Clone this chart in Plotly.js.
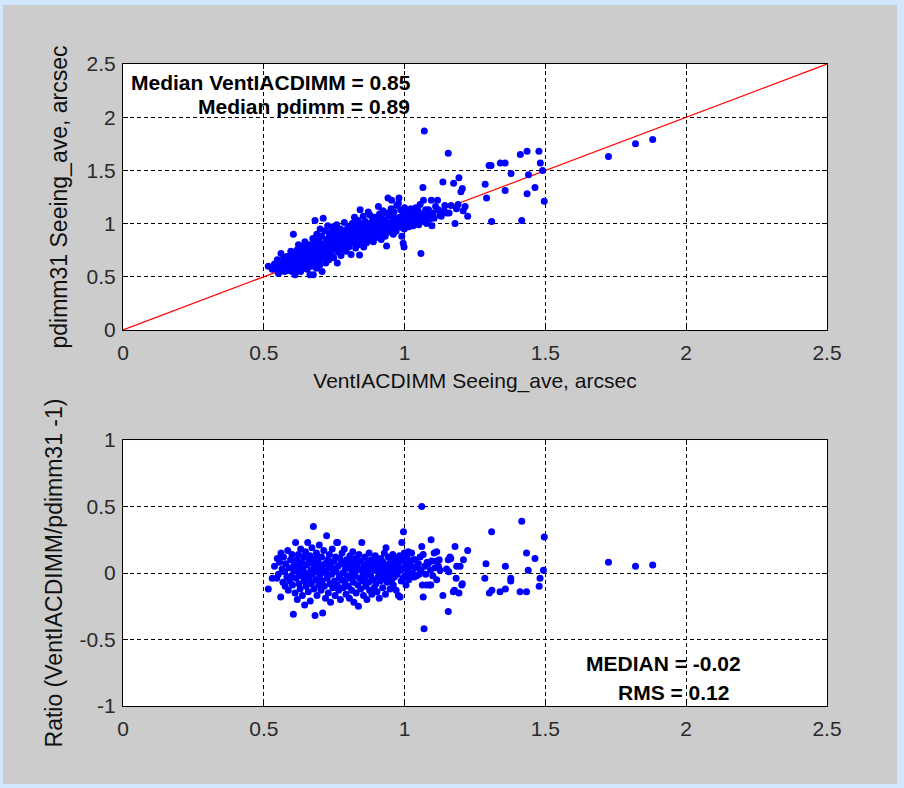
<!DOCTYPE html>
<html><head><meta charset="utf-8">
<script src="https://cdn.plot.ly/plotly-3.0.1.min.js"></script>
<style>
html,body{margin:0;padding:0;background:#d2e6fc;width:904px;height:788px;overflow:hidden;}
#plot{position:absolute;left:3px;top:5px;width:894px;height:779px;}
</style></head><body><div id="plot"></div>
<script>
// ---- top panel: VentIACDIMM vs pdimm31 seeing (arcsec) ----
const xTop = [
0.516,0.530,0.538,0.546,0.548,0.552,0.556,0.561,0.563,0.568,0.570,0.574,0.575,0.578,0.582,0.585,0.587,0.590,0.592,0.593,0.596,0.598,0.600,0.602,0.605,0.606,
0.608,0.611,0.612,0.615,0.617,0.618,0.620,0.622,0.623,0.625,0.627,0.629,0.631,0.633,0.635,0.636,0.638,0.640,0.642,0.644,0.646,0.646,0.648,0.650,0.652,0.654,0.656,0.658,0.660,0.662,0.664,0.665,0.667,0.669,0.670,0.672,0.674,0.676,0.677,0.679,0.680,0.682,0.683,0.685,0.687,0.688,0.690,0.692,0.694,0.695,0.697,0.699,0.700,
0.702,0.704,0.705,0.707,0.709,0.711,0.712,0.714,0.716,0.718,0.720,0.722,0.724,0.725,0.727,0.729,0.731,0.733,0.735,0.736,0.738,0.740,0.742,0.744,0.746,0.748,0.750,0.752,0.754,0.756,0.758,0.759,0.761,0.762,0.764,0.766,0.768,0.770,0.772,0.774,0.776,0.778,0.780,0.782,0.784,0.786,0.788,0.790,0.792,0.794,0.796,0.798,
0.800,0.802,0.804,0.806,0.808,0.810,0.812,0.814,0.816,0.818,0.820,0.822,0.824,0.826,0.828,0.830,0.832,0.834,0.836,0.838,0.840,0.842,0.844,0.845,0.847,0.849,0.851,0.853,0.855,0.857,0.859,0.861,0.863,0.865,0.867,0.869,0.871,0.873,0.875,0.877,0.879,0.881,0.883,0.885,0.887,0.889,0.891,0.893,0.895,0.897,0.899,
0.901,0.903,0.905,0.907,0.909,0.911,0.913,0.915,0.917,0.919,0.921,0.923,0.925,0.927,0.929,0.931,0.933,0.935,0.936,0.937,0.939,0.941,0.942,0.944,0.946,0.948,0.950,0.952,0.954,0.956,0.958,0.960,0.962,0.964,0.966,0.968,0.970,0.972,0.974,0.976,0.978,0.980,0.982,0.984,0.986,0.988,0.990,0.992,0.994,0.995,0.997,0.998,0.999,
1.000,1.002,1.005,1.008,1.010,1.012,1.015,1.018,1.020,1.022,1.025,1.028,1.030,1.033,1.036,1.040,1.042,1.045,1.048,1.050,1.053,1.055,1.058,1.060,1.063,1.065,1.067,1.070,1.072,1.075,1.078,1.082,1.085,1.088,1.092,1.095,1.097,1.100,
1.105,1.110,1.117,1.120,1.125,1.130,1.136,1.140,1.143,1.150,1.155,1.158,1.165,1.174,1.179,1.184,1.190,1.193,1.200,1.205,1.208,1.215,1.224,
1.286,1.291,1.300,1.307,1.309,1.340,1.357,1.357,1.378,1.411,1.416,1.435,1.435,1.440,1.463,1.477,1.482,1.490,1.496,1.724,1.820,1.881];
const yTop = [
0.60,0.57,0.62,0.57,0.66,0.53,0.60,0.72,0.64,0.58,0.67,0.55,0.64,0.61,0.69,0.56,0.63,0.66,0.59,0.69,0.74,0.61,0.55,0.64,0.90,0.71,
0.58,0.52,0.67,0.62,0.75,0.70,0.57,0.64,0.80,0.68,0.60,0.73,0.55,0.66,0.78,0.62,0.71,0.58,0.68,0.74,0.83,0.60,0.64,0.70,0.77,0.57,0.66,0.71,0.62,0.80,0.52,0.69,0.74,0.60,0.77,0.65,0.86,0.52,0.71,0.62,0.82,1.03,0.68,0.75,0.58,0.90,0.70,0.64,0.79,0.84,0.73,0.61,0.95,
0.67,0.77,0.88,0.55,0.72,1.05,0.81,0.69,0.93,0.75,0.63,0.85,0.78,0.70,0.98,0.82,0.66,0.89,0.74,0.80,0.92,0.71,0.86,0.78,0.97,0.68,0.83,0.89,0.76,0.93,0.81,0.99,0.63,0.85,0.73,0.91,0.79,0.87,0.95,0.70,0.83,0.89,0.76,0.93,0.86,1.01,0.80,0.91,0.74,0.88,0.95,0.83,
0.90,0.78,0.97,0.86,0.93,0.71,0.88,1.00,0.82,0.95,0.90,1.06,0.85,0.77,0.98,0.92,0.87,1.03,0.80,0.94,0.705,1.13,0.89,1.00,0.84,0.96,0.91,1.07,0.78,0.93,0.87,1.02,0.98,0.82,0.94,0.89,1.11,0.97,0.85,1.08,0.92,1.00,0.88,0.95,1.04,0.83,0.97,0.91,1.06,0.99,0.87,
0.94,1.02,0.89,1.16,0.97,1.09,0.93,1.00,0.85,1.05,0.96,1.12,0.91,0.99,1.03,0.88,0.95,1.10,0.79,1.01,0.97,1.24,0.92,1.07,1.00,1.08,0.95,1.14,1.22,0.98,1.03,0.90,1.11,0.96,1.05,1.00,0.93,1.17,1.02,0.97,1.19,1.24,1.06,0.99,1.13,1.03,0.88,0.96,1.08,0.815,1.01,0.78,0.95,
1.15,1.05,0.99,1.08,1.02,1.12,0.97,1.06,1.00,1.14,1.08,1.03,0.98,1.10,1.05,1.15,1.01,1.07,1.12,0.99,1.04,1.18,0.72,1.09,1.02,1.34,1.22,1.87,1.06,1.13,1.00,1.08,1.13,1.04,1.07,1.22,0.98,1.10,
1.05,1.16,1.22,1.13,1.08,1.07,1.39,1.12,1.17,1.10,1.66,1.10,1.17,1.38,1.00,1.14,1.18,1.43,1.30,1.33,1.12,1.16,1.07,
1.37,1.24,1.545,1.545,1.02,1.57,1.57,1.31,1.47,1.65,1.03,1.68,1.28,1.46,1.34,1.68,1.57,1.50,1.21,1.63,1.75,1.79];

// ---- bottom panel: ratio VentIACDIMM/pdimm31 - 1 ----
const xBot = [
0.516,0.530,0.538,0.546,0.548,0.552,0.556,0.560,0.561,0.565,0.568,0.570,0.574,0.576,0.578,0.582,0.585,0.587,0.590,0.592,0.595,0.598,0.600,0.602,0.605,0.606,
0.608,0.611,0.613,0.615,0.617,0.619,0.621,0.623,0.625,0.627,0.629,0.631,0.633,0.635,0.637,0.639,0.641,0.643,0.645,0.646,0.648,0.650,0.652,0.654,0.656,0.658,0.660,0.662,0.664,0.665,0.667,0.669,0.671,0.673,0.675,0.676,0.678,0.680,0.682,0.683,0.685,0.687,0.689,0.691,0.693,0.695,0.697,0.699,
0.701,0.703,0.705,0.707,0.709,0.711,0.713,0.715,0.717,0.719,0.721,0.723,0.725,0.727,0.729,0.731,0.733,0.735,0.737,0.739,0.741,0.743,0.745,0.747,0.749,0.751,0.753,0.755,0.757,0.759,0.761,0.762,0.764,0.766,0.768,0.770,0.772,0.774,0.776,0.778,0.780,0.782,0.784,0.786,0.788,0.790,0.792,0.794,0.796,0.798,
0.800,0.802,0.804,0.806,0.808,0.810,0.812,0.814,0.816,0.818,0.820,0.822,0.824,0.826,0.828,0.830,0.832,0.834,0.836,0.838,0.840,0.842,0.844,0.846,0.848,0.850,0.852,0.854,0.856,0.858,0.860,0.862,0.864,0.866,0.868,0.870,0.872,0.874,0.876,0.878,0.880,0.882,0.884,0.886,0.888,0.890,0.892,0.894,0.896,0.898,
0.900,0.902,0.904,0.906,0.908,0.910,0.912,0.914,0.916,0.918,0.920,0.922,0.924,0.926,0.928,0.930,0.932,0.934,0.936,0.938,0.940,0.942,0.944,0.946,0.948,0.950,0.952,0.954,0.956,0.958,0.960,0.962,0.964,0.966,0.968,0.970,0.972,0.974,0.976,0.978,0.980,0.982,0.984,0.986,0.988,0.990,0.992,0.994,0.996,0.998,0.999,
1.001,1.004,1.005,1.008,1.010,1.013,1.015,1.018,1.020,1.023,1.025,1.028,1.031,1.034,1.037,1.040,1.043,1.046,1.049,1.052,1.055,1.058,1.061,1.061,1.063,1.066,1.066,1.069,1.072,1.075,1.078,1.080,1.084,1.088,1.092,1.093,1.094,1.096,1.100,
1.105,1.108,1.114,1.114,1.114,1.120,1.123,1.126,1.136,1.149,1.155,1.155,1.157,1.161,1.164,1.173,1.177,1.179,1.183,1.185,1.193,1.197,1.203,1.205,1.209,1.224,
1.285,1.289,1.301,1.309,1.310,1.339,1.358,1.358,1.377,1.377,1.410,1.416,1.433,1.433,1.439,1.463,1.478,1.481,1.493,1.496,1.724,1.820,1.881];
const yBot = [
-0.12,-0.04,0.05,-0.04,0.11,-0.01,0.08,-0.18,0.15,0.03,-0.07,0.12,0.01,-0.10,0.07,-0.03,0.17,-0.13,0.04,-0.06,0.10,-0.02,0.14,-0.09,-0.31,0.02,
0.06,-0.15,0.23,-0.04,0.10,-0.20,0.01,0.14,-0.08,0.05,-0.12,0.18,-0.02,0.08,-0.17,0.03,0.12,-0.06,-0.24,0.00,0.16,-0.10,0.06,-0.03,0.23,-0.14,0.09,-0.05,0.13,-0.21,0.02,-0.08,0.19,-0.01,0.07,0.35,-0.12,0.04,-0.32,0.11,-0.05,0.15,-0.17,0.01,0.08,-0.09,0.21,-0.02,
0.05,-0.13,0.12,-0.06,-0.30,0.02,0.17,-0.10,0.07,-0.19,0.00,0.28,-0.04,0.10,-0.15,0.04,0.14,-0.08,-0.22,0.06,-0.01,0.18,-0.11,0.03,0.09,-0.06,-0.17,0.12,0.01,0.23,-0.09,0.23,0.05,-0.13,-0.03,0.11,-0.20,0.07,-0.05,0.15,0.00,-0.11,0.08,0.18,-0.07,0.03,-0.16,0.10,-0.02,0.06,
-0.10,0.04,-0.19,0.13,-0.04,0.08,-0.13,0.01,0.16,-0.07,-0.22,0.05,-0.02,0.11,-0.15,0.02,0.07,-0.09,-0.25,0.14,-0.04,0.03,-0.12,0.09,0.23,-0.06,0.00,-0.17,0.06,-0.03,0.12,-0.10,0.04,-0.20,0.01,0.08,-0.07,0.15,-0.13,0.03,-0.02,0.10,-0.16,0.05,-0.05,0.07,-0.11,0.02,0.13,-0.08,
0.04,-0.14,0.09,-0.03,0.01,-0.19,0.06,-0.06,0.11,-0.01,0.03,-0.11,0.08,-0.04,0.15,0.00,-0.16,0.19,0.05,-0.07,0.02,0.12,-0.02,0.07,-0.12,0.04,0.10,-0.05,0.01,0.14,-0.09,0.06,-0.03,0.09,0.03,-0.13,0.11,-0.01,0.05,-0.17,0.08,0.13,-0.18,0.02,-0.06,0.23,0.10,-0.04,0.31,0.04,0.15,
-0.02,0.07,-0.09,0.12,0.02,0.16,-0.05,0.09,-0.01,0.05,0.15,0.00,0.10,-0.03,0.10,0.04,-0.02,0.06,0.07,-0.01,0.12,0.02,0.50,0.20,-0.09,0.14,-0.18,-0.42,0.05,-0.01,-0.09,0.08,0.07,-0.09,0.02,-0.09,0.25,0.09,-0.02,
0.15,0.04,0.16,-0.05,0.09,0.05,0.10,0.02,-0.17,0.03,0.10,-0.29,0.01,0.12,0.11,-0.14,-0.13,0.20,-0.04,0.05,-0.15,0.05,-0.09,-0.08,0.10,0.17,
-0.04,0.07,-0.15,0.31,-0.13,-0.14,0.05,-0.12,-0.04,-0.06,-0.14,0.39,0.15,-0.14,0.02,0.11,-0.10,-0.04,0.02,0.27,0.08,0.05,0.06];

// one-to-one reference line
const lineX = [0, 2.5];
const lineY = [0, 2.5];

// ticks and texts
const xTickVals = [0, 0.5, 1, 1.5, 2, 2.5];
const xTickText = ['0', '0.5', '1', '1.5', '2', '2.5'];
const yTopTickVals = [0, 0.5, 1, 1.5, 2, 2.5];
const yTopTickText = ['0', '0.5', '1', '1.5', '2', '2.5'];
const yBotTickVals = [-1, -0.5, 0, 0.5, 1];
const yBotTickText = ['-1', '-0.5', '0', '0.5', '1'];
const topXTitle = 'VentIACDIMM Seeing_ave, arcsec';
const topYTitle = 'pdimm31 Seeing_ave, arcsec';
const botYTitle = 'Ratio (VentIACDIMM/pdimm31 -1)';
const medianTexts = ['Median VentIACDIMM = 0.85', 'Median pdimm = 0.89'];
const statTexts = ['MEDIAN = -0.02', 'RMS = 0.12'];

const FONT = 'Liberation Sans, Arial, Helvetica, sans-serif';
const tickFont = {family: FONT, size: 21, color: '#2a2a2a'};
const xTitleFont = {family: FONT, size: 21, color: '#111'};
const yTitleFont = {family: FONT, size: 23, color: '#111'};
const noteFont = {family: FONT, size: 21, color: '#000'};

function axis(extra) {
  return Object.assign({
    showline: true, linecolor: '#000', linewidth: 1, mirror: 'ticks',
    ticks: 'inside', ticklen: 5, tickwidth: 1, tickcolor: '#000',
    showgrid: true, gridcolor: '#000', gridwidth: 1, griddash: '4px,3px',
    zeroline: false, tickfont: tickFont, fixedrange: true, autorange: false
  }, extra);
}

const traces = [
  {x: lineX, y: lineY, xaxis: 'x', yaxis: 'y', mode: 'lines',
   line: {color: '#ff0000', width: 1.2}, hoverinfo: 'skip'},
  {x: xTop, y: yTop, xaxis: 'x', yaxis: 'y', mode: 'markers', type: 'scatter',
   marker: {color: '#0000ff', size: 7, line: {width: 0}}},
  {x: xBot, y: yBot, xaxis: 'x2', yaxis: 'y2', mode: 'markers', type: 'scatter',
   marker: {color: '#0000ff', size: 7, line: {width: 0}}}
];

const layout = {
  width: 894, height: 779,
  margin: {l: 120, r: 70, t: 59, b: 78, pad: 0},
  paper_bgcolor: '#cccccc', plot_bgcolor: '#ffffff',
  showlegend: false,
  font: {family: FONT, color: '#111'},
  xaxis: axis({domain: [0, 1], anchor: 'y', range: [0, 2.5], tickvals: xTickVals, ticktext: xTickText,
    ticklabelstandoff: 4, title: {text: topXTitle, font: xTitleFont, standoff: 10}}),
  yaxis: axis({domain: [0.5857, 1], anchor: 'x', range: [0, 2.5], tickvals: yTopTickVals, ticktext: yTopTickText,
    ticklabelstandoff: 2, title: {text: topYTitle, font: yTitleFont, standoff: 12}}),
  xaxis2: axis({domain: [0, 1], anchor: 'y2', range: [0, 2.5], tickvals: xTickVals, ticktext: xTickText,
    ticklabelstandoff: 4}),
  yaxis2: axis({domain: [0, 0.4143], anchor: 'x2', range: [-1, 1], tickvals: yBotTickVals, ticktext: yBotTickText,
    ticklabelstandoff: 2, title: {text: botYTitle, font: yTitleFont, standoff: 10}}),
  annotations: [
    {xref: 'x', yref: 'y', x: 1.03, y: 2.33, xanchor: 'right', yanchor: 'middle', showarrow: false,
     text: '<b>' + medianTexts[0] + '</b>', font: noteFont},
    {xref: 'x', yref: 'y', x: 1.027, y: 2.096, xanchor: 'right', yanchor: 'middle', showarrow: false,
     text: '<b>' + medianTexts[1] + '</b>', font: noteFont},
    {xref: 'x2', yref: 'y2', x: 2.202, y: -0.677, xanchor: 'right', yanchor: 'middle', showarrow: false,
     text: '<b>' + statTexts[0] + '</b>', font: noteFont},
    {xref: 'x2', yref: 'y2', x: 2.159, y: -0.895, xanchor: 'right', yanchor: 'middle', showarrow: false,
     text: '<b>' + statTexts[1] + '</b>', font: noteFont}
  ]
};

Plotly.newPlot('plot', traces, layout, {displayModeBar: false, staticPlot: true});
</script>
</body></html>
